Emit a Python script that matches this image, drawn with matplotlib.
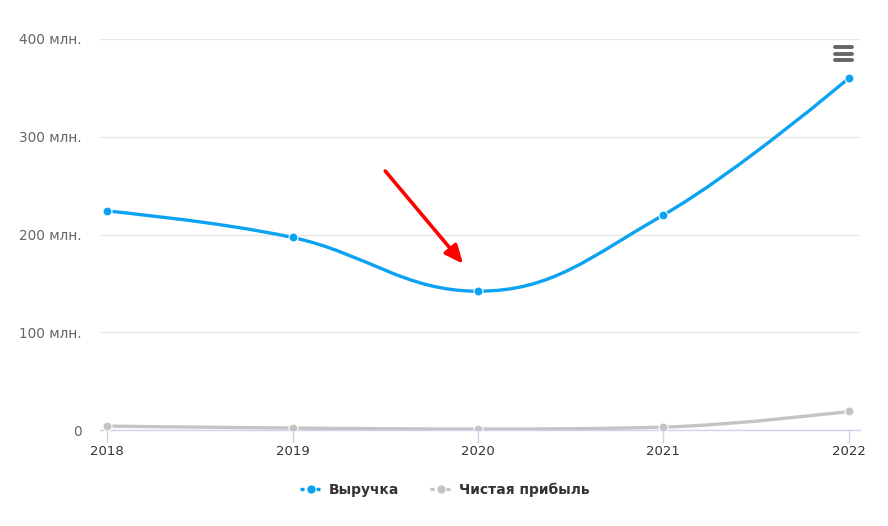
import matplotlib.pyplot as plt
import numpy as np
from matplotlib.path import Path
from matplotlib.patches import PathPatch
from matplotlib.lines import Line2D

years = [2018, 2019, 2020, 2021, 2022]
revenue = [224, 197, 142, 220, 360]      # млн.
net_profit = [4, 2, 1, 3, 19]            # млн.
y_ticks = [0, 100, 200, 300, 400]
y_labels = ['0', '100 млн.', '200 млн.', '300 млн.', '400 млн.']
arrow_start = (2019.50, 265)
arrow_end = (2019.92, 170)

BLUE = '#0ba2f2'
GRAY = '#c4c4c4'


def spline_path(xs, ys, smoothing=1.5):
    # highcharts-like spline: cubic bezier between points
    n = len(xs)
    left = [(x, y) for x, y in zip(xs, ys)]
    right = [(x, y) for x, y in zip(xs, ys)]
    denom = smoothing + 1
    for i in range(1, n - 1):
        px, py = xs[i], ys[i]
        lx, ly = xs[i - 1], ys[i - 1]
        nx, ny = xs[i + 1], ys[i + 1]
        lcx = (smoothing * px + lx) / denom
        lcy = (smoothing * py + ly) / denom
        rcx = (smoothing * px + nx) / denom
        rcy = (smoothing * py + ny) / denom
        if rcx != lcx:
            corr = (rcy - lcy) * (rcx - px) / (rcx - lcx) + py - rcy
            lcy += corr
            rcy += corr
        if lcy > ly and lcy > py:
            lcy = max(ly, py)
            rcy = 2 * py - lcy
        elif lcy < ly and lcy < py:
            lcy = min(ly, py)
            rcy = 2 * py - lcy
        if rcy > ny and rcy > py:
            rcy = max(ny, py)
            lcy = 2 * py - rcy
        elif rcy < ny and rcy < py:
            rcy = min(ny, py)
            lcy = 2 * py - rcy
        left[i] = (lcx, lcy)
        right[i] = (rcx, rcy)
    verts = [(xs[0], ys[0])]
    codes = [Path.MOVETO]
    for i in range(1, n):
        verts += [right[i - 1], left[i], (xs[i], ys[i])]
        codes += [Path.CURVE4] * 3
    return Path(verts, codes)


fig = plt.figure(figsize=(8.88, 5.26), dpi=100)
ax = fig.add_axes([100 / 888, (526 - 430) / 526, 760 / 888, 391 / 526])

for vals, color in [(net_profit, GRAY), (revenue, BLUE)]:
    ax.add_patch(PathPatch(spline_path(years, vals), facecolor='none',
                           edgecolor=color, lw=2.4, capstyle='round', zorder=3))
    ax.plot(years, vals, 'o', color=color, ms=6.5, mec='white', mew=0.8, zorder=4)

ax.annotate('', xy=arrow_end, xytext=arrow_start,
            arrowprops=dict(arrowstyle='-|>,head_length=0.5,head_width=0.22', color='#ff0000', lw=2.6,
                            mutation_scale=22, shrinkA=0, shrinkB=0), zorder=5)

ax.set_xlim(2017.962, 2022.06)
ax.set_ylim(0, 400)
ax.set_xticks(years)
ax.set_xticklabels([str(y) for y in years], fontsize=9.5, color='#333333')
ax.set_yticks(y_ticks)
ax.set_yticklabels(y_labels, fontsize=9.8, color='#666666')
ax.tick_params(axis='y', length=0, pad=13)
ax.tick_params(axis='x', length=9, width=1, color='#ccd6eb', pad=2, direction='out')
ax.grid(axis='y', color='#e6e6e6', lw=1)
ax.set_axisbelow(True)
for s in ['top', 'right', 'left']:
    ax.spines[s].set_visible(False)
ax.spines['bottom'].set_color('#ccd6eb')
ax.spines['bottom'].set_linewidth(1)

handles = [
    Line2D([], [], color=BLUE, lw=2.4, ls=(0, (1.2, 1.2)), marker='o', ms=6.5, mec='white', mew=0.5),
    Line2D([], [], color=GRAY, lw=2.4, ls=(0, (1.2, 1.2)), marker='o', ms=6.5, mec='white', mew=0.5),
]
leg = fig.legend(handles, ['Выручка', 'Чистая прибыль'], loc='center',
                 bbox_to_anchor=(445 / 888, 1 - 490 / 526), ncol=2, frameon=False,
                 handlelength=1.6, columnspacing=2.2, handletextpad=0.5,
                 prop={'size': 10, 'weight': 'bold'})
for t in leg.get_texts():
    t.set_color('#333333')

# menu icon
for yy in [47, 53.5, 60]:
    fig.add_artist(Line2D([835 / 888, 852 / 888], [1 - yy / 526] * 2,
                          color='#666666', lw=2.8, solid_capstyle='round'))

fig.savefig('out.png', dpi=100)
